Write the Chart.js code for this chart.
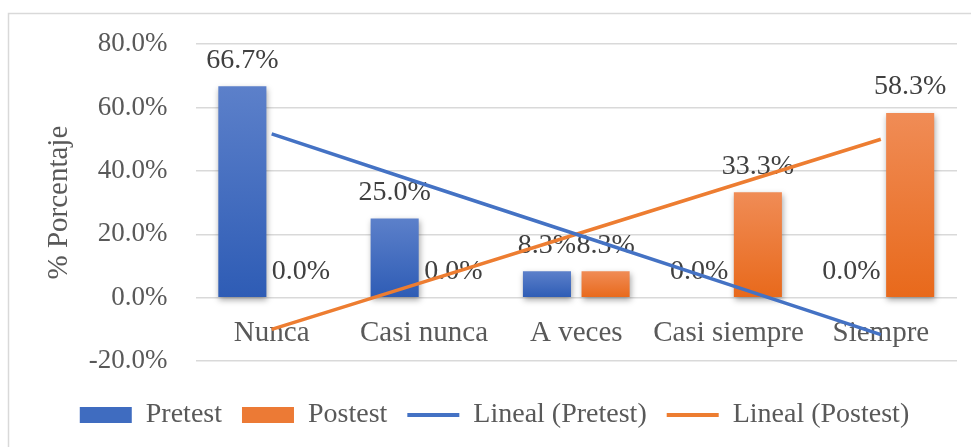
<!DOCTYPE html>
<html>
<head>
<meta charset="utf-8">
<script src="https://cdn.jsdelivr.net/npm/chart.js@4/dist/chart.umd.min.js"></script>
<style>
  html, body { margin: 0; padding: 0; background: #fff; }
  #wrap { width: 971px; height: 447px; }
</style>
</head>
<body>
<div id="wrap"><canvas id="chart"></canvas></div>
<script>
const categorias = ["Nunca", "Casi nunca", "A veces", "Casi siempre", "Siempre"];
const pretest = [66.7, 25.0, 8.3, 0.0, 0.0];
const postest = [0.0, 0.0, 8.3, 33.3, 58.3];
// tendencia lineal de cada serie
const linealPretest = [51.7, 35.8, 20.0, 4.2, -11.7];
const linealPostest = [-10.0, 5.0, 20.0, 35.0, 50.0];
const ticksY = [-20, 0, 20, 40, 60, 80];

const FUENTE = "'Liberation Serif', 'Times New Roman', serif";
const AZUL = "#4472c4";
const NARANJA = "#ed7d31";

// degradado vertical de cada barra (claro arriba, oscuro abajo)
function degradado(arriba, abajo) {
    return function (ctx) {
        const chart = ctx.chart;
        const y = chart.scales.y;
        if (ctx.type !== "data" || !y) return abajo;
        const top = y.getPixelForValue(ctx.raw);
        const base = y.getPixelForValue(0);
        if (!isFinite(top) || Math.abs(base - top) < 1) return abajo;
        const g = chart.ctx.createLinearGradient(0, top, 0, base);
        g.addColorStop(0, arriba);
        g.addColorStop(1, abajo);
        return g;
    };
}

const marco = {
    id: "marco",
    beforeDraw(chart) {
        const c = chart.ctx;
        c.save();
        c.strokeStyle = "#d9d9d9";
        c.lineWidth = 1.5;
        c.beginPath();
        c.moveTo(8.5, chart.height + 5);
        c.lineTo(8.5, 13.5);
        c.lineTo(chart.width + 5, 13.5);
        c.stroke();
        c.restore();
    }
};

// sombra suave de las barras y etiquetas de valor
const sombra = {
    id: "sombra",
    beforeDatasetDraw(chart, args) {
        if (args.meta.type !== "bar") return;
        const c = chart.ctx;
        c.save();
        c.shadowColor = "rgba(0,0,0,0.35)";
        c.shadowBlur = 6;
        c.shadowOffsetX = 1;
        c.shadowOffsetY = 3;
    },
    afterDatasetDraw(chart, args) {
        if (args.meta.type !== "bar") return;
        chart.ctx.restore();
        const c = chart.ctx;
        const datos = chart.data.datasets[args.index].data;
        c.save();
        c.font = "28px " + FUENTE;
        c.fillStyle = "#404040";
        c.textAlign = "center";
        c.textBaseline = "middle";
        args.meta.data.forEach((bar, i) => {
            c.fillText(datos[i].toFixed(1) + "%", bar.x, bar.y - 26);
        });
        c.restore();
    }
};

new Chart(document.getElementById("chart"), {
    data: {
        labels: categorias,
        datasets: [
            {
                type: "bar",
                label: "Pretest",
                data: pretest,
                order: 1,
                backgroundColor: degradado("#5c80ca", "#2e5cb5"),
                barPercentage: 0.82,
                categoryPercentage: 0.77,
            },
            {
                type: "bar",
                label: "Postest",
                data: postest,
                order: 1,
                backgroundColor: degradado("#f08c56", "#e8691b"),
                barPercentage: 0.82,
                categoryPercentage: 0.77,
            },
            {
                type: "line",
                label: "Lineal (Pretest)",
                data: linealPretest,
                order: 0,
                borderColor: AZUL,
                borderWidth: 3.5,
                pointRadius: 0,
                fill: false,
            },
            {
                type: "line",
                label: "Lineal (Postest)",
                data: linealPostest,
                order: 0,
                borderColor: NARANJA,
                borderWidth: 3.5,
                pointRadius: 0,
                fill: false,
            },
        ],
    },
    options: {
        responsive: true,
        maintainAspectRatio: false,
        animation: false,
        layout: {
            padding: { top: 27, right: 14, left: 32, bottom: 8 },
        },
        plugins: {
            tooltip: { enabled: false },
            legend: {
                position: "bottom",
                // título vacío: sólo deja aire entre el gráfico y la leyenda
                title: {
                    display: true,
                    text: "",
                    font: { size: 10 },
                    padding: { top: 0, bottom: 8 },
                },
                labels: {
                    font: { family: FUENTE, size: 28 },
                    color: "#595959",
                    usePointStyle: true,
                    pointStyleWidth: 52,
                    boxHeight: 16,
                    padding: 20,
                    generateLabels: function (chart) {
                        const relleno = ["#3f6cc0", "#ec7a35", AZUL, NARANJA];
                        return chart.data.datasets.map((ds, i) => ({
                            text: ds.label,
                            datasetIndex: i,
                            fillStyle: relleno[i],
                            strokeStyle: relleno[i],
                            lineWidth: i < 2 ? 0 : 4,
                            pointStyle: i < 2 ? "rect" : "line",
                            fontColor: "#595959",
                            hidden: false,
                        }));
                    },
                },
            },
        },
        scales: {
            x: {
                position: { y: 0 },
                grid: { display: false, drawTicks: false },
                border: { display: false },
                ticks: {
                    padding: 18,
                    autoSkip: false,
                    maxRotation: 0,
                    minRotation: 0,
                    color: "#595959",
                    font: { family: FUENTE, size: 29 },
                },
            },
            y: {
                min: -20,
                max: 80,
                afterBuildTicks: function (axis) {
                    axis.ticks = ticksY.map(v => ({ value: v }));
                },
                grid: { color: "#d9d9d9", lineWidth: 1.5, drawTicks: false },
                border: { display: false },
                ticks: {
                    padding: 28,
                    color: "#595959",
                    font: { family: FUENTE, size: 27 },
                    callback: v => v.toFixed(1) + "%",
                },
                title: {
                    display: true,
                    text: "% Porcentaje",
                    color: "#595959",
                    font: { family: FUENTE, size: 29 },
                    padding: { top: 10, bottom: -16 },
                },
            },
        },
    },
    plugins: [marco, sombra],
});
</script>
</body>
</html>
